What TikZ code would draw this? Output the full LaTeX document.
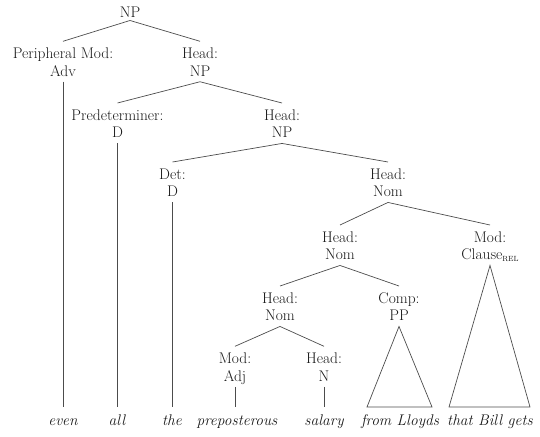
\documentclass[tikz,border=0pt]{standalone}
\usepackage{fontspec}
\newcommand\twol[2]{\rule{0pt}{15pt}#1\\#2\rule[-3.5pt]{0pt}{3.5pt}}
\newcommand\lf[1]{\rule{0pt}{16pt}#1}
\newcommand\relsub{\raisebox{-1.5pt}{\fontsize{7.5}{7.5}\selectfont REL}}
\tikzset{
  lab/.style={align=center, inner xsep=1pt, inner ysep=2pt, anchor=north,
    font=\fontsize{15.5}{17.7}\selectfont, text=black!90},
  leaf/.style={inner xsep=1pt, inner ysep=2pt, anchor=base,
    font=\fontsize{15.5}{17.7}\selectfont\itshape, text=black!90},
  edge/.style={draw=black!70, line width=0.7pt, line join=miter}
}
\begin{document}
\begin{tikzpicture}[x=1bp,y=-1bp]
\useasboundingbox (0,0) rectangle (540,437);
% internal nodes
\node[lab, anchor=base, inner ysep=3pt] (root) at (130,17.3) {NP};
\node[lab] (pm)    at (63,41.3)   {\twol{Peripheral Mod:}{Adv}};
\node[lab] (hnp1)  at (200,41.3)  {\twol{Head:}{NP}};
\node[lab] (pre)   at (117.5,103) {\twol{Predeterminer:}{D}};
\node[lab] (hnp2)  at (282,103)   {\twol{Head:}{NP}};
\node[lab] (det)   at (172.5,162) {\twol{Det:}{D}};
\node[lab] (hnom1) at (388,162)   {\twol{Head:}{Nom}};
\node[lab] (hnom2) at (340,225)   {\twol{Head:}{Nom}};
\node[lab] (mod)   at (490,225)   {\twol{Mod:}{Clause\relsub}};
\node[lab] (hnom3) at (280,286)   {\twol{Head:}{Nom}};
\node[lab] (comp)  at (399,286)   {\twol{Comp:}{PP}};
\node[lab] (adj)   at (235,346.3) {\twol{Mod:}{Adj}};
\node[lab] (hn)    at (324,346.3) {\twol{Head:}{N}};
% leaves
\node[leaf] (even) at (63,425)  {\lf{even}};
\node[leaf] (all)  at (117,425) {\lf{all}};
\node[leaf] (the)  at (172,425) {\lf{the}};
\node[leaf] (prep) at (237,425) {\lf{preposterous}};
\node[leaf] (sal)  at (324,425) {\lf{salary}};
\node[leaf] (from) at (400,425) {\lf{from Lloyds}};
\node[leaf] (that) at (490,425) {\lf{that Bill gets}};
% triangle base corners
\coordinate (p1) at (367,407);
\coordinate (p2) at (432,407);
\coordinate (c1) at (449,407);
\coordinate (c2) at (530,407);
% branches
\draw[edge] (pm.north) -- (root.south) -- (hnp1.north);
\draw[edge] (pre.north) -- (hnp1.south) -- (hnp2.north);
\draw[edge] (det.north) -- (hnp2.south) -- (hnom1.north);
\draw[edge] (hnom2.north) -- (hnom1.south) -- (mod.north);
\draw[edge] (hnom3.north) -- (hnom2.south) -- (comp.north);
\draw[edge] (adj.north) -- (hnom3.south) -- (hn.north);
% verticals
\draw[edge] (pm.south) -- (pm.south |- even.north);
\draw[edge] (pre.south) -- (pre.south |- all.north);
\draw[edge] (det.south) -- (det.south |- the.north);
\draw[edge] (adj.south) -- (adj.south |- prep.north);
\draw[edge] (hn.south) -- (hn.south |- sal.north);
% triangles
\draw[edge] (comp.south) -- (p1) -- (p2) -- cycle;
\draw[edge] (mod.south) -- (c1) -- (c2) -- cycle;
\end{tikzpicture}
\end{document}
